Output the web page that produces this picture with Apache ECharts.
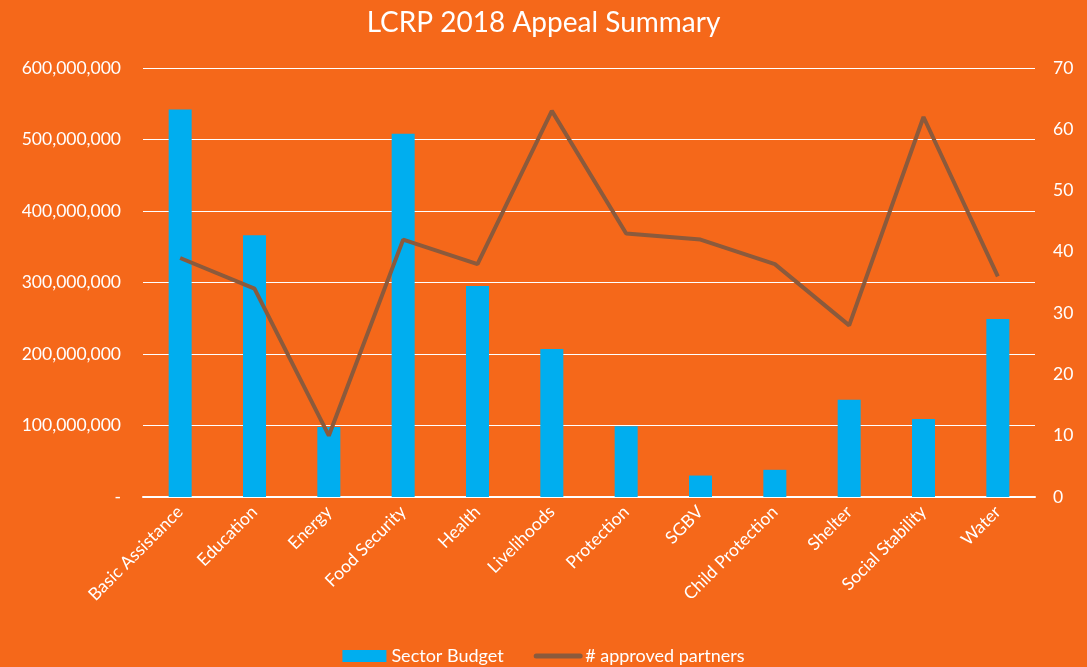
<!DOCTYPE html>
<html><head><meta charset="utf-8">
<script src="https://cdn.jsdelivr.net/npm/echarts@6/dist/echarts.min.js"></script>
<style>html,body{margin:0;padding:0;background:#F5681A;}#c{width:1087px;height:667px;}</style>
</head><body><div id="c"></div>
<script>
const categories = ['Basic Assistance','Education','Energy','Food Security','Health','Livelihoods','Protection','SGBV','Child Protection','Shelter','Social Stability','Water'];
const sectorBudget = [542000000, 366000000, 98000000, 508000000, 295000000, 207000000, 99000000, 30000000, 38000000, 136000000, 109000000, 249000000];
const approvedPartners = [39, 34, 10, 42, 38, 63, 43, 42, 38, 28, 62, 36];
const leftTicks = [0, 100000000, 200000000, 300000000, 400000000, 500000000, 600000000];
const rightTicks = [0, 10, 20, 30, 40, 50, 60, 70];

const font = 'Lato, "Open Sans", sans-serif';
const chart = echarts.init(document.getElementById('c'));
chart.setOption({
  backgroundColor: '#F5681A',
  textStyle: { fontFamily: font },
  title: { text: 'LCRP 2018 Appeal Summary', left: 'center', top: 4,
    textStyle: { color: '#fff', fontSize: 28, fontWeight: 'normal', fontFamily: font } },
  legend: { bottom: -3, left: 'center', itemGap: 30, itemWidth: 44, itemHeight: 12,
    textStyle: { color: '#fff', fontSize: 18, fontFamily: font },
    data: [{ name: 'Sector Budget', icon: 'rect' },
           { name: '# approved partners', itemStyle: { opacity: 0 }, lineStyle: { width: 5, cap: 'round', color: '#8B5A3C' } }] },
  grid: { left: 143, right: 52, top: 68, bottom: 170 },
  xAxis: { type: 'category', data: categories,
    axisLine: { lineStyle: { color: '#fff', width: 2 } }, axisTick: { show: false },
    axisLabel: { color: '#fff', rotate: 45, fontSize: 17.5, margin: 12, interval: 0, fontFamily: font } },
  yAxis: [
    { type: 'value', min: 0, max: 600000000, interval: 100000000,
      axisLine: { show: false }, axisTick: { show: false },
      splitLine: { lineStyle: { color: '#fff', width: 1.2 } },
      axisLabel: { color: '#fff', fontSize: 17.5, margin: 22, fontFamily: font,
        formatter: v => v === 0 ? '-' : v.toLocaleString('en-US') } },
    { type: 'value', min: 0, max: 70, interval: 10,
      axisLine: { show: false }, axisTick: { show: false }, splitLine: { show: false },
      axisLabel: { color: '#fff', fontSize: 17.5, margin: 18, fontFamily: font } }
  ],
  series: [
    { name: 'Sector Budget', type: 'bar', data: sectorBudget, barWidth: 23,
      itemStyle: { color: '#00AEEF' } },
    { name: '# approved partners', type: 'line', yAxisIndex: 1, data: approvedPartners,
      symbol: 'none', lineStyle: { color: '#8B5A3C', width: 4 }, itemStyle: { color: '#8B5A3C' } }
  ]
});
</script></body></html>
